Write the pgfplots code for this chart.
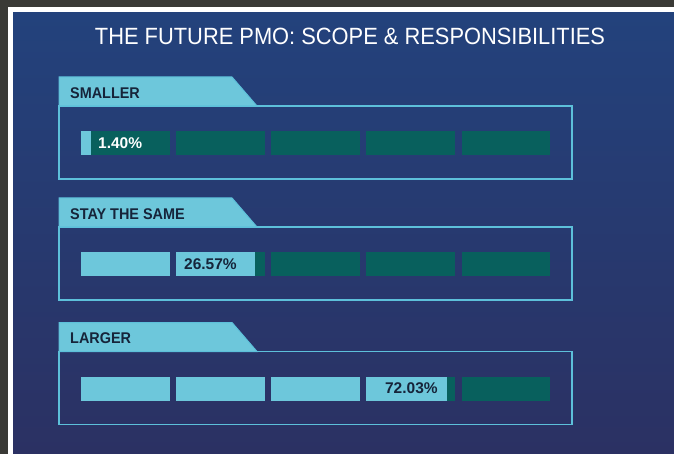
\documentclass[border=0pt]{standalone}
\usepackage{pgfplots}
\pgfplotsset{compat=1.18}
\usepackage{fontspec}
\setmainfont{Liberation Sans}
\definecolor{frameGray}{HTML}{3A3A36}
\definecolor{navyA}{HTML}{23427C}
\definecolor{navyB}{HTML}{2B3163}
\definecolor{lblue}{HTML}{6DC7DB}
\definecolor{lline}{HTML}{5DC0DA}
\definecolor{tealD}{HTML}{08605D}
\definecolor{darktxt}{HTML}{16243A}
% one segment: x0 x1 y0 y1 colour
\newcommand\seg[5]{\addplot[fill=#5, draw=none, forget plot] coordinates {(#1,#3) (#2,#3) (#2,#4) (#1,#4)} --cycle;}
\begin{document}
\begin{tikzpicture}
\begin{scope}[x=1pt,y=-1pt]
\fill[frameGray] (0,0) rectangle (674,454);
\fill[white] (8,7.5) rectangle (674,454);
\shade[top color=navyA, bottom color=navyB] (13,13) rectangle (674,454);
\node[anchor=base, text=white, inner sep=0, font=\fontsize{23.5}{27}\selectfont] at (350,45) {\scalebox{0.93}[1]{THE FUTURE PMO: SCOPE \& RESPONSIBILITIES}};
\foreach \o/\lab in {0/SMALLER, 121/STAY THE SAME, 245.5/LARGER}{
  \draw[lline, line width=1.6pt] (59,106+\o) rectangle (572,179+\o);
  \fill[lblue, draw=lline, line width=1pt] (59,77+\o) -- (232,77+\o) -- (257,106+\o) -- (59,106+\o) -- cycle;
  \node[anchor=base west, inner sep=0, text=darktxt, font=\bfseries\fontsize{15.5}{18}\selectfont] at (70,98.3+\o) {\scalebox{0.93}[1]{\lab}};
}
\end{scope}
\begin{axis}[at={(0pt,0pt)}, anchor=north west, scale only axis,
  width=674pt, height=454pt,
  xmin=-17.271, xmax=126.439, ymin=0, ymax=454, y dir=reverse,
  hide axis, clip=false]
% SMALLER: 1.40%
\seg{0}{18.87}{131}{155}{tealD}
\seg{20.28}{39.15}{131}{155}{tealD}
\seg{40.56}{59.43}{131}{155}{tealD}
\seg{60.84}{79.71}{131}{155}{tealD}
\seg{81.13}{100}{131}{155}{tealD}
\seg{0}{2.13}{131}{155}{lblue}
% STAY THE SAME: 26.57%
\seg{0}{18.87}{252}{276}{lblue}
\seg{20.28}{39.15}{252}{276}{tealD}
\seg{40.56}{59.43}{252}{276}{tealD}
\seg{60.84}{79.71}{252}{276}{tealD}
\seg{81.13}{100}{252}{276}{tealD}
\seg{20.28}{37.1}{252}{276}{lblue}
% LARGER: 72.03%
\seg{0}{18.87}{376.5}{400.5}{lblue}
\seg{20.28}{39.15}{376.5}{400.5}{lblue}
\seg{40.56}{59.43}{376.5}{400.5}{lblue}
\seg{60.84}{79.71}{376.5}{400.5}{tealD}
\seg{81.13}{100}{376.5}{400.5}{tealD}
\seg{60.84}{78.0}{376.5}{400.5}{lblue}
\node[anchor=west, inner sep=0, text=white, font=\bfseries\fontsize{15.5}{18}\selectfont] at (axis cs:3.62,143) {1.40\%};
\node[anchor=west, inner sep=0, text=darktxt, font=\bfseries\fontsize{15.5}{18}\selectfont] at (axis cs:21.96,264) {26.57\%};
\node[anchor=west, inner sep=0, text=darktxt, font=\bfseries\fontsize{15.5}{18}\selectfont] at (axis cs:64.8,388.5) {72.03\%};
\end{axis}
\end{tikzpicture}
\end{document}
